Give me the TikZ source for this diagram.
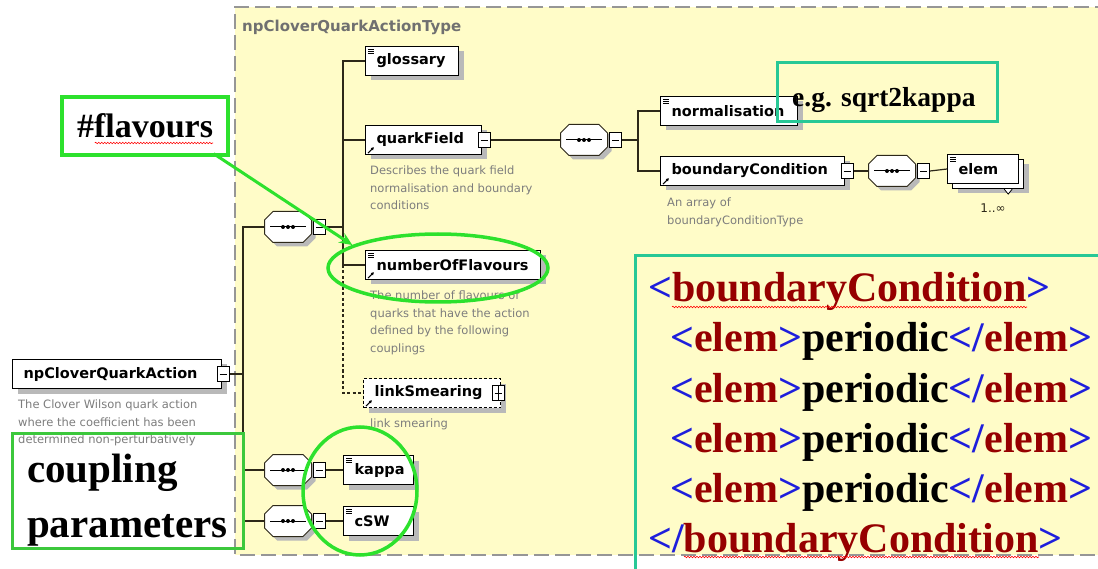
\documentclass[tikz,border=0pt]{standalone}
\usepackage{fontspec}
\setmainfont{Liberation Serif}
\newfontfamily\xs{DejaVu Sans}
\newfontfamily\tnr{Liberation Serif}
\usetikzlibrary{shapes.geometric,shadows,calc,decorations.pathmorphing,arrows.meta}
\definecolor{bgy}{RGB}{255,252,200}
\definecolor{dashg}{RGB}{150,150,150}
\definecolor{descg}{RGB}{125,125,125}
\definecolor{grn}{RGB}{45,225,45}
\definecolor{grnb}{RGB}{60,200,60}
\definecolor{tealb}{RGB}{40,200,150}
\definecolor{xmlblue}{RGB}{30,30,220}
\definecolor{xmlred}{RGB}{150,0,0}
\definecolor{shd}{RGB}{185,185,185}
\definecolor{lnc}{RGB}{45,40,25}
\newcommand\xmlB[1]{\textcolor{xmlblue}{#1}}
\newcommand\xmlR[1]{\textcolor{xmlred}{#1}}
\newcommand\eqicon[1]{\foreach \dy in {3,5,7} \draw[line width=0.6pt] ($(#1.north west)+(3,\dy)$) -- ++(6,0);}
\newcommand\refarrow[1]{\draw[line width=1pt,-{Latex[length=3pt,width=3.5pt]}] ($(#1.south west)+(3,-2)$) -- ++(6,-6);}
\newcommand\octa[1]{\path[#1] (-15,-15.5) -- (15,-15.5) -- (23.5,-7) -- (23.5,7) -- (15,15.5) -- (-15,15.5) -- (-23.5,7) -- (-23.5,-7) -- cycle;}
\newcommand\seqshape[1]{\begin{scope}[shift={(#1.center)}]
  \octa{fill=shd,shift={(4,4)}}
  \octa{draw=lnc,fill=white,line width=1pt}
  \end{scope}
  \draw[line width=1pt] ($(#1.west)+(6,0)$) -- ($(#1.east)+(-6,0)$);
  \foreach \dx in {-5,0,5} \fill ($(#1.center)+(\dx,0)$) circle (2pt);}
\begin{document}
\begin{tikzpicture}[x=1pt,y=-1pt,
  elbox/.style={draw, line width=1.2pt, fill=white, anchor=west, minimum height=29pt,
    inner xsep=11pt, inner ysep=2pt, align=left, font=\xs\bfseries\fontsize{14.5}{16}\selectfont},
  elboxs/.style={elbox, general shadow={shadow xshift=5pt,shadow yshift=-5pt,fill=shd}},
  seqbox/.style={rectangle, minimum width=47pt, minimum height=31pt, inner sep=0pt},
  pmbox/.style={draw, line width=0.8pt, fill=white, minimum width=12pt, minimum height=15pt, inner sep=0pt},
  minus/.style={pmbox, path picture={\draw[line width=0.8pt] ($(path picture bounding box.west)+(2.5,0)$) -- ($(path picture bounding box.east)+(-2.5,0)$);}},
  plus/.style={pmbox, path picture={\draw[line width=0.8pt] ($(path picture bounding box.west)+(2.5,0)$) -- ($(path picture bounding box.east)+(-2.5,0)$);
     \draw[line width=0.8pt] ($(path picture bounding box.north)+(0,-2.5)$) -- ($(path picture bounding box.south)+(0,2.5)$);}},
  conn/.style={draw=lnc, line width=1.2pt},
  desc/.style={anchor=north west, inner sep=0pt, align=left, text=descg, font=\xs\fontsize{11.5}{17.5}\selectfont},
  annot/.style={line width=3.5pt},
  xmlline/.style={anchor=base west, inner sep=0pt, font=\tnr\bfseries\fontsize{42}{50}\selectfont},
  bigtxt/.style={anchor=base west, inner sep=0pt, font=\tnr\bfseries\fontsize{41}{48}\selectfont},
  wavy/.style={draw=red, line width=0.6pt, decorate, decoration={snake, amplitude=0.8pt, segment length=3pt}}
]
\useasboundingbox (0,0) rectangle (1098,569);
\clip (0,0) rectangle (1098,569);
\fill[white] (0,0) rectangle (1098,569);
% schema background
\fill[bgy] (235,7) rectangle (1110,555);
\draw[dashg, line width=1.5pt, dash pattern=on 15pt off 6pt] (1110,7) -- (235,7) -- (235,555) -- (1110,555);
\node[anchor=west, inner sep=0pt, text=descg!90!black, font=\xs\bfseries\fontsize{15}{17}\selectfont] (title) at (242,27) {npCloverQuarkActionType};

% root
\node[elboxs, text width=187pt] (root) at (12,374) {npCloverQuarkAction};
\node[minus] (rootm) at ($(root.east)+(1,0)$) {};
\node[desc] (rootd) at (18,400) {The Clover Wilson quark action\\where the coefficient has been\\determined non-perturbatively};

% sequences
\node[seqbox] (s1) at (288,227) {}; \seqshape{s1}
\node[minus] (s1m) at ($(s1.east)+(8,0)$) {};
\node[seqbox] (sk) at (288,470) {}; \seqshape{sk}
\node[minus] (skm) at ($(sk.east)+(8,0)$) {};
\node[seqbox] (sc) at (288,521) {}; \seqshape{sc}
\node[minus] (scm) at ($(sc.east)+(8,0)$) {};

% children of first sequence
\node[elboxs, text width=71pt] (gl) at (365,61) {glossary}; \eqicon{gl}
\node[elboxs, text width=94pt] (qf) at (365,140) {quarkField}; \refarrow{qf}
\node[minus] (qfm) at ($(qf.east)+(2,0)$) {};
\node[desc] (qfd) at (370,166) {Describes the quark field\\normalisation and boundary\\conditions};
\node[elboxs, text width=153pt] (nof) at (365,265) {numberOfFlavours}; \eqicon{nof} \refarrow{nof}
\node[desc] (nofd) at (370,291) {The number of flavours of\\quarks that have the action\\defined by the following\\couplings};
\node[elboxs, text width=115pt, dash pattern=on 3pt off 2pt] (ls) at (363,393) {linkSmearing}; \refarrow{ls}
\node[plus] (lsp) at ($(ls.east)+(-3,0)$) {};
\node[desc] (lsd) at (370,419) {link smearing};
\node[elboxs, text width=48pt] (kappa) at (343,470) {kappa}; \eqicon{kappa}
\node[elboxs, text width=48pt] (csw) at (343,521) {cSW}; \eqicon{csw}

% quarkField content
\node[seqbox] (s2) at (584,140) {}; \seqshape{s2}
\node[minus] (s2m) at ($(s2.east)+(8,0)$) {};
\node[elboxs, text width=115pt] (norm) at (660,111) {normalisation}; \eqicon{norm}
\node[elboxs, text width=162pt] (bc) at (660,171) {boundaryCondition}; \refarrow{bc}
\node[minus] (bcm) at ($(bc.east)+(2,0)$) {};
\node[desc] (bcd) at (667,198) {An array of\\boundaryConditionType};
\node[seqbox] (s3) at (892,171) {}; \seqshape{s3}
\node[minus] (s3m) at ($(s3.east)+(8,0)$) {};
\node[elboxs, text width=49pt] (elb) at (952,174) {\phantom{elem}};
\draw[line width=0.8pt, fill=white] ($(elb.south east)+(-20,0)$) -- ++(4,5) -- ++(4,-5);
\node[elbox, text width=49pt] (elem) at (947,169) {elem}; \eqicon{elem}
\node[inner sep=0pt, font=\xs\fontsize{12}{14}\selectfont, text=lnc] (card) at (993,208) {1..∞};

% connectors
\coordinate (j0) at (243,374);
\coordinate (j1) at (343,227);
\coordinate (j2) at (638,140);
\draw[conn] (rootm.east) -- (j0);
\draw[conn] (j0) |- (s1.west);
\draw[conn] (j0) |- (sk.west);
\draw[conn] (j0) |- (sc.west);
\draw[conn] (s1m.east) -- (j1);
\draw[conn] (gl.west) -| (j1);
\draw[conn] (j1) |- (qf.west);
\draw[conn] (j1) |- (nof.west);
\draw[conn, dash pattern=on 3pt off 2.5pt] (j1 |- nof.west) |- (ls.west);
\draw[conn] (skm.east) -- (kappa.west);
\draw[conn] (scm.east) -- (csw.west);
\draw[conn] (qfm.east) -- (s2.west);
\draw[conn] (s2m.east) -- (j2);
\draw[conn] (j2) |- (norm.west);
\draw[conn] (j2) |- (bc.west);
\draw[conn] (bcm.east) -- (s3.west);
\draw[conn] (s3m.east) -- (elem.west);

% annotations
\node[draw=grn, annot, minimum width=166pt, minimum height=58pt, inner sep=0pt] (flvbox) at (145,126) {};
\node[anchor=base, inner sep=0pt, font=\tnr\bfseries\fontsize{34}{40}\selectfont] (flv) at (145,138) {\#flavours};
\draw[wavy] ($(flv.base west)+(18,5)$) -- ($(flv.base east)+(0,5)$);
\node[draw=grn, annot, ellipse, minimum width=220pt, minimum height=68pt, inner sep=0pt] (ell1) at (438,268) {};
\draw[grn, line width=3pt, -{Stealth[length=13pt,width=11pt]}] ($(flvbox.south east)+(-16,-3)$) -- (ell1.165);
\node[draw=grn, annot, ellipse, minimum width=114pt, minimum height=128pt, inner sep=0pt] (ell2) at (360,491) {};

\node[draw=grnb, line width=3pt, minimum width=231pt, minimum height=115pt, inner sep=0pt] (cpbox) at (127.5,490.5) {};
\node[bigtxt] (cp1) at (27,482) {coupling};
\node[bigtxt] (cp2) at (27,537) {parameters};

\node[draw=tealb, line width=3pt, minimum width=220pt, minimum height=59pt, inner sep=0pt] (egbox) at (887,92.5) {};
\node[anchor=base west, inner sep=0pt, font=\tnr\bfseries\fontsize{27.5}{32}\selectfont] (eg) at (792,107) {e.g. sqrt2kappa};

\draw[tealb, line width=3pt] (1110,256) -- (635,256) -- (635,575);
\node[xmlline] (x1) at (648,302) {\xmlB{<}\xmlR{boundaryCondition}\xmlB{>}};
\node[xmlline] (x2) at (670,352) {\xmlB{<}\xmlR{elem}\xmlB{>}periodic\xmlB{<}\xmlB{/}\xmlR{elem}\xmlB{>}};
\node[xmlline] (x3) at (670,402) {\xmlB{<}\xmlR{elem}\xmlB{>}periodic\xmlB{<}\xmlB{/}\xmlR{elem}\xmlB{>}};
\node[xmlline] (x4) at (670,452) {\xmlB{<}\xmlR{elem}\xmlB{>}periodic\xmlB{<}\xmlB{/}\xmlR{elem}\xmlB{>}};
\node[xmlline] (x5) at (670,502) {\xmlB{<}\xmlR{elem}\xmlB{>}periodic\xmlB{<}\xmlB{/}\xmlR{elem}\xmlB{>}};
\node[xmlline] (x6) at (648,552) {\xmlB{<}\xmlB{/}\xmlR{boundaryCondition}\xmlB{>}};
\draw[wavy] ($(x1.base west)+(24,5)$) -- ++(355,0);
\draw[wavy] ($(x6.base west)+(36,5)$) -- ++(355,0);
\end{tikzpicture}
\end{document}
